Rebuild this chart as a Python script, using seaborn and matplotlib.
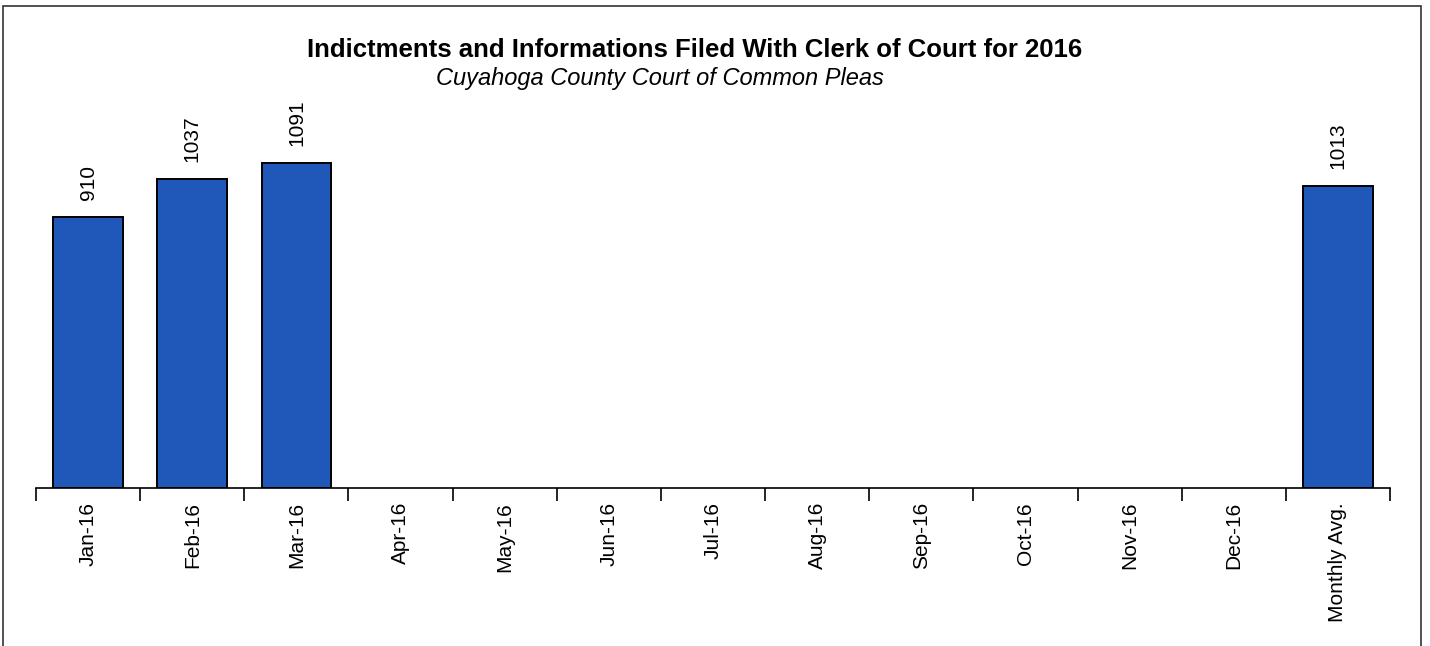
import numpy as np
import pandas as pd
import matplotlib
matplotlib.use("Agg")
import matplotlib.pyplot as plt
from matplotlib.patches import Rectangle
import seaborn as sns

# values; months with no filing yet are left empty
MONTHS = ["Jan-16", "Feb-16", "Mar-16", "Apr-16", "May-16", "Jun-16",
          "Jul-16", "Aug-16", "Sep-16", "Oct-16", "Nov-16", "Dec-16",
          "Monthly Avg."]
FILED = [910, 1037, 1091, np.nan, np.nan, np.nan,
         np.nan, np.nan, np.nan, np.nan, np.nan, np.nan, 1013]

TITLE = "Indictments and Informations Filed With Clerk of Court for 2016"
SUBTITLE = "Cuyahoga County Court of Common Pleas"
BAR_COLOR = "#1f58b8"

sns.set_theme(style="white")
plt.rcParams["font.family"] = ["Liberation Sans", "DejaVu Sans"]
plt.rcParams["text.color"] = "black"
plt.rcParams["xtick.color"] = "black"

df = pd.DataFrame({"month": MONTHS, "filed": FILED})

fig = plt.figure(figsize=(14.3, 6.46), dpi=100)
ax = fig.add_axes([0.0252, 0.2446, 0.9468, 0.554])

sns.barplot(data=df, x="month", y="filed", order=MONTHS, color=BAR_COLOR,
            saturation=1, width=0.67, edgecolor="black", linewidth=1.4,
            errorbar=None, ax=ax)

# value labels, rotated like the original (seaborn skips the empty months)
for bar in ax.patches:
    h = bar.get_height()
    if np.isnan(h) or h == 0:
        continue
    ax.annotate(f"{int(round(h))}", (bar.get_x() + bar.get_width() / 2, h),
                xytext=(0, 12), textcoords="offset points", rotation=90,
                ha="center", va="bottom", fontsize=15, color="black")

ax.set_xlim(-0.5, len(MONTHS) - 0.5)
ax.set_ylim(0, 1200)
ax.set_xlabel("")
ax.set_ylabel("")
ax.set_yticks([])
for side in ["top", "left", "right"]:
    ax.spines[side].set_visible(False)
ax.spines["bottom"].set_color("black")
ax.spines["bottom"].set_linewidth(1.2)

# labels centred on the bars, tick marks on the category boundaries
ax.set_xticks(range(len(MONTHS)))
ax.set_xticklabels(MONTHS, rotation=90, fontsize=15)
ax.tick_params(axis="x", which="major", length=0, pad=10, labelcolor="black")
ax.set_xticks(np.arange(-0.5, len(MONTHS)), minor=True)
ax.tick_params(axis="x", which="minor", bottom=True, length=9, width=1.2,
               color="black", direction="out")

fig.text(0.486, 1 - 50 / 646, TITLE, ha="center", va="center",
         fontsize=18.5, fontweight="bold")
fig.text(0.4615, 1 - 78 / 646, SUBTITLE, ha="center", va="center",
         fontsize=17, style="italic")

# the page border around the chart
fig.patches.append(Rectangle((3 / 1430, -0.05), 1418 / 1430, 1.05 - 6 / 646,
                             transform=fig.transFigure, fill=False,
                             edgecolor="#333333", linewidth=1.2))

fig.savefig("out.png", dpi=100, facecolor="white")
plt.close(fig)
